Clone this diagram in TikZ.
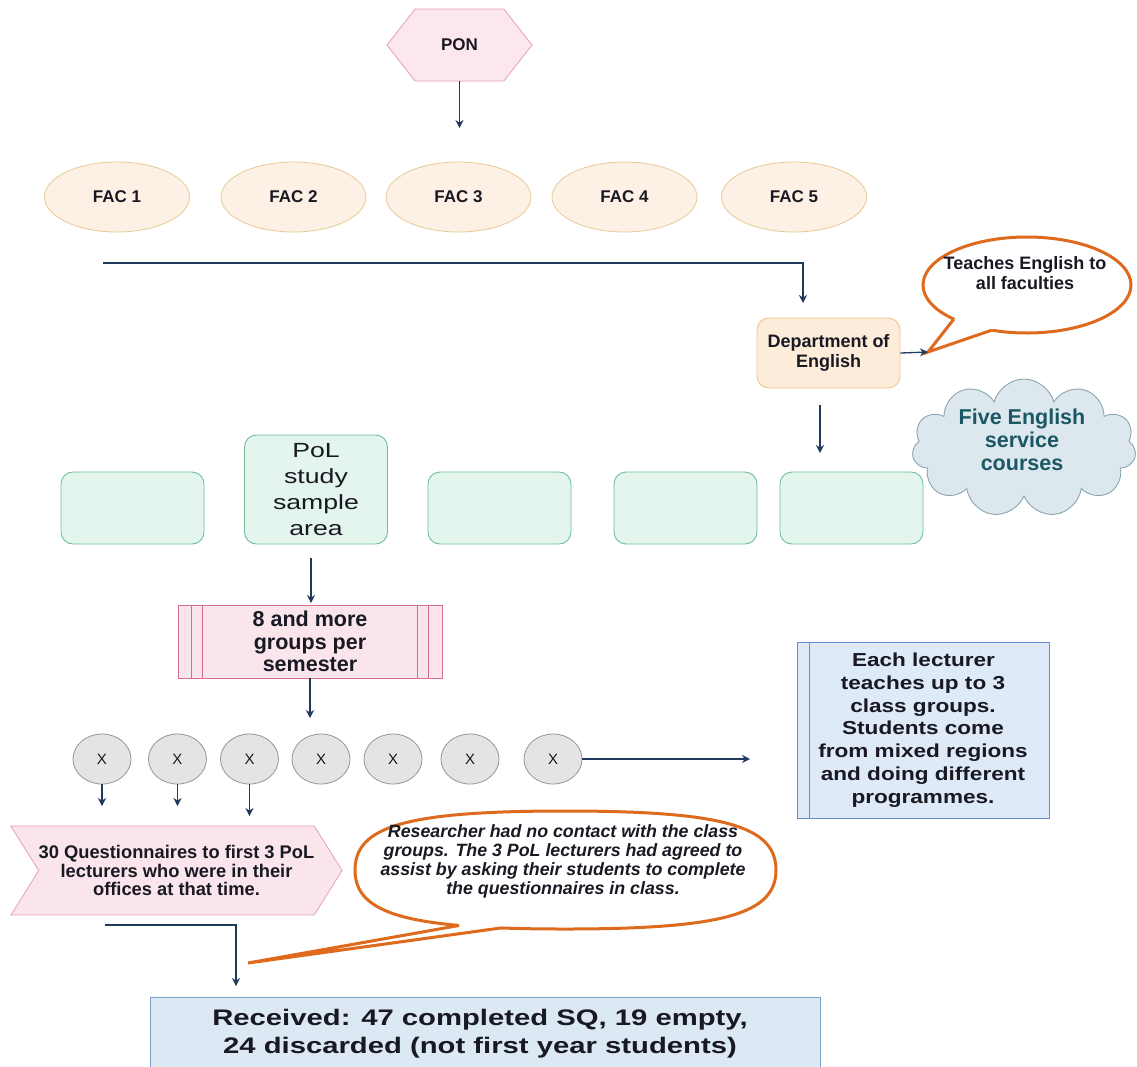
\documentclass[tikz,border=0pt]{standalone}
\usepackage{fontspec}
\setmainfont{Liberation Sans}
\newfontfamily\widefont[FakeStretch=1.3]{Liberation Sans}
\newfontfamily\midwidefont[FakeStretch=1.2]{Liberation Sans}
\usetikzlibrary{shapes.geometric,shapes.symbols,arrows.meta}
\newcommand{\myfs}[2]{\fontsize{#1}{#2}\selectfont}
\definecolor{navy}{RGB}{31,58,92}
\definecolor{ponfill}{RGB}{252,231,238}
\definecolor{ponline}{RGB}{232,160,180}
\definecolor{facfill}{RGB}{253,241,230}
\definecolor{facline}{RGB}{232,202,150}
\definecolor{deptfill}{RGB}{253,236,218}
\definecolor{deptline}{RGB}{243,196,140}
\definecolor{callout}{RGB}{222,106,30}
\definecolor{cloudfill}{RGB}{220,232,238}
\definecolor{cloudline}{RGB}{140,165,178}
\definecolor{cloudtext}{RGB}{28,88,100}
\definecolor{grfill}{RGB}{228,245,238}
\definecolor{grline}{RGB}{110,190,155}
\definecolor{prfill}{RGB}{251,229,236}
\definecolor{prline}{RGB}{215,110,140}
\definecolor{xfill}{RGB}{228,228,228}
\definecolor{xline}{RGB}{150,150,150}
\definecolor{blfill}{RGB}{222,234,247}
\definecolor{blline}{RGB}{100,140,215}
\definecolor{rcfill}{RGB}{220,233,245}
\definecolor{rcline}{RGB}{120,160,200}
\definecolor{txt}{RGB}{25,25,35}
\begin{document}
\begin{tikzpicture}[x=1pt,y=-1pt,
  every node/.style={text=txt},
  arr/.style={draw=navy, line width=1.3pt, -{Stealth[length=8pt,width=8pt]}},
  fac/.style={ellipse, draw=facline, fill=facfill, line width=0.8pt, minimum width=145pt, minimum height=70pt, inner sep=0pt, font=\bfseries\myfs{17}{20}},
  green/.style={rectangle, rounded corners=12pt, draw=grline, fill=grfill, line width=0.9pt, minimum width=143pt, minimum height=72pt, inner sep=0pt},
  xc/.style={ellipse, draw=xline, fill=xfill, line width=0.8pt, minimum width=58pt, minimum height=50pt, inner sep=0pt, font=\myfs{15}{18}},
  callline/.style={draw=callout, line width=3pt, line join=miter},
]
\useasboundingbox (0,0) rectangle (1137,1066);
\fill[white] (0,0) rectangle (1137,1066);

% PON
\node[signal, signal to=west and east, signal pointer angle=104, minimum width=145pt, minimum height=72pt, inner sep=0pt, fill=ponfill, draw=ponline, line width=0.8pt, font=\bfseries\myfs{17}{20}] (pon) at (459.5,45) {PON};
\coordinate (ponend) at (459.5,128);
\draw[arr] (pon.south) -- (ponend);

% Faculties
\node[fac] (fac1) at (117,197) {FAC 1};
\node[fac] (fac2) at (293.5,197) {FAC 2};
\node[fac] (fac3) at (458.5,197) {FAC 3};
\node[fac] (fac4) at (624.5,197) {FAC 4};
\node[fac] (fac5) at (794,197) {FAC 5};

% line to department
\coordinate (dl0) at (103,263);
\coordinate (dl2) at (803,303);
\draw[arr] (dl0) -| (dl2);

% Department
\node[rectangle, rounded corners=12pt, draw=deptline, fill=deptfill, line width=0.9pt, minimum width=143pt, minimum height=70pt, inner sep=0pt, align=center, font=\bfseries\myfs{18}{19.5}] (dept) at (828.5,353) {Department of\\English};

% Callout 1
\node[ellipse, draw=callout, line width=3pt, fill=white, minimum width=208pt, minimum height=96pt, outer sep=0pt, inner sep=0pt] (b1) at (1027,285) {};
\coordinate (b1tip) at (928,352);
\fill[white] (b1.205) -- (b1tip) -- (b1.232) -- (b1.center) -- cycle;
\draw[callline] (b1.205) -- (b1tip) -- (b1.232);
\node[align=center, font=\bfseries\myfs{18}{20}] (b1t) at (1025,273) {Teaches English to\\all faculties};
\draw[arr] (dept.east) -- (b1tip);

% department down arrow
\coordinate (dd0) at (820,405);
\coordinate (dd1) at (820,453);
\draw[arr] (dd0) -- (dd1);

% Green boxes
\node[green] (g1) at (132.5,508) {};
\node[green, minimum height=109pt, align=center, font=\widefont\myfs{20.5}{26}] (g2) at (316,489.5) {PoL\\study\\sample\\area};
\node[green] (g3) at (499.5,508) {};
\node[green] (g4) at (685.5,508) {};
\node[green] (g5) at (851.5,508) {};

% Cloud
\node[cloud, cloud puffs=11, aspect=1.6, minimum width=224pt, minimum height=138pt, inner sep=0pt, fill=cloudfill, draw=cloudline, line width=0.9pt] (cloud) at (1024,448) {};
\node[align=center, text=cloudtext, font=\bfseries\myfs{21.5}{23}] (cloudt) at (1022,440) {Five English\\service\\courses};

% PoL -> groups
\coordinate (p0) at (311,558);
\coordinate (p1) at (311,603);
\draw[arr] (p0) -- (p1);

% Predefined process
\node[rectangle, draw=prline, fill=prfill, line width=0.8pt, minimum width=264pt, minimum height=73pt, inner sep=0pt, align=center, font=\bfseries\myfs{21.5}{22.5}] (grp) at (310,641.5) {8 and more\\groups per\\semester};
\foreach \s in {14,25} {
  \draw[prline, line width=0.8pt] ([xshift=\s pt]grp.north west) -- ([xshift=\s pt]grp.south west);
  \draw[prline, line width=0.8pt] ([xshift=-\s pt]grp.north east) -- ([xshift=-\s pt]grp.south east);
}
\coordinate (g0) at (310,718);
\draw[arr] (grp.south) -- (g0);

% X circles
\node[xc] (x1) at (102,759) {X};
\node[xc] (x2) at (177.5,759) {X};
\node[xc] (x3) at (249.5,759) {X};
\node[xc] (x4) at (321,759) {X};
\node[xc] (x5) at (393,759) {X};
\node[xc] (x6) at (470,759) {X};
\node[xc] (x7) at (553,759) {X};
\coordinate (xend) at (750,759);
\draw[arr] (x7.east) -- (xend);
\coordinate (x1e) at (102,806);
\coordinate (x2e) at (177.5,806);
\coordinate (x3e) at (249.5,816);
\draw[arr] (x1.south) -- (x1e);
\draw[arr] (x2.south) -- (x2e);
\draw[arr] (x3.south) -- (x3e);

% Lecturer box
\node[rectangle, draw=blline, fill=blfill, line width=0.8pt, minimum width=252pt, minimum height=176pt, inner sep=0pt, align=center, font=\midwidefont\bfseries\myfs{18.8}{22.8}] (lect) at (923,730) {\hspace*{1pt}Each lecturer\\teaches up to 3\\class groups.\\Students come\\from mixed regions\\and doing different\\programmes.};
\draw[blline, line width=0.8pt] ([xshift=13pt]lect.north west) -- ([xshift=13pt]lect.south west);

% Questionnaire chevron
\node[signal, signal to=east, signal from=west, signal pointer angle=116, minimum width=327pt, minimum height=89pt, inner sep=0pt, fill=prfill, draw=ponline, line width=0.8pt, align=center, font=\bfseries\myfs{18.3}{18.6}] (quest) at (176.5,870.5) {30 Questionnaires to first 3 PoL\\lecturers who were in their\\offices at that time.};

% Callout 2
\path[fill=white, callline] (355,870) .. controls (355,826) and (407,811) .. (565,811)
  .. controls (723,811) and (776,826) .. (776,870)
  .. controls (776,914) and (723,929) .. (565,929)
  .. controls (407,929) and (355,914) .. (355,870) coordinate[pos=0.27] (b2a) coordinate[pos=0.15] (b2b) -- cycle;
\coordinate (b2tip) at (248,963);
\fill[white] (b2a) -- (b2tip) -- (b2b) -- (505,900) -- (455,900) -- cycle;
\draw[callline] (b2a) -- (b2tip) -- (b2b);
\node[align=center, font=\bfseries\itshape\myfs{17.8}{19}] (b2t) at (563,861) {Researcher had no contact with the class\\groups. The 3 PoL lecturers had agreed to\\assist by asking their students to complete\\the questionnaires in class.};

% line to received
\coordinate (q0) at (105,925);
\coordinate (q1) at (236,986);
\draw[arr] (q0) -| (q1);

% Received box
\node[rectangle, draw=rcline, fill=rcfill, line width=0.9pt, minimum width=670pt, minimum height=80pt, inner sep=0pt, anchor=north west] (recv) at (150,997) {};
\node[align=center, font=\widefont\bfseries\myfs{22.5}{28}] (recvt) at (480,1034) {Received: 47 completed SQ, 19 empty,\\24 discarded (not first year students)};
\end{tikzpicture}
\end{document}
